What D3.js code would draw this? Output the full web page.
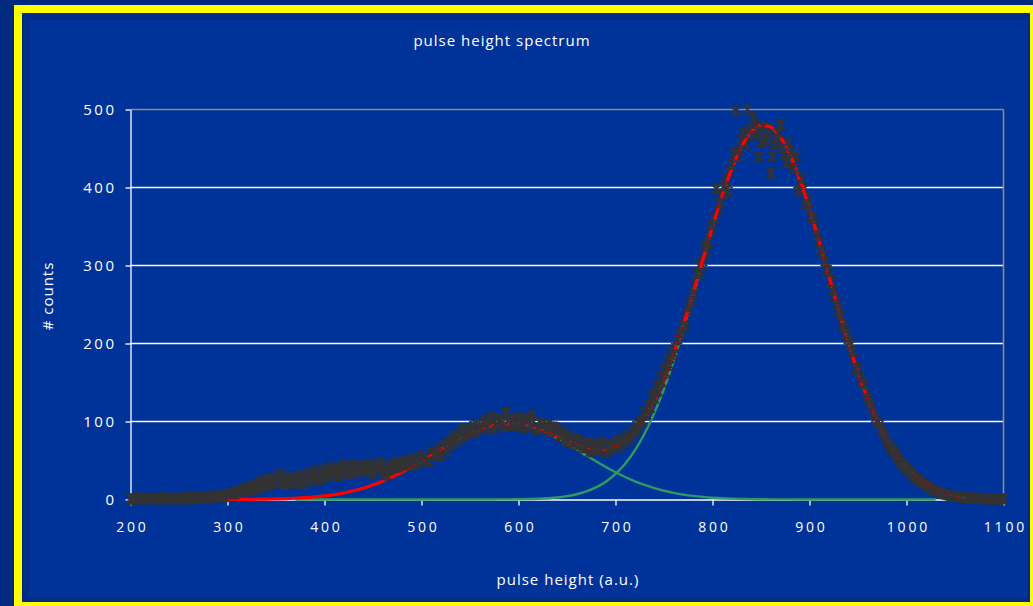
<!DOCTYPE html>
<html><head><meta charset="utf-8">
<script src="https://cdn.jsdelivr.net/npm/d3@7"></script>
<style>body{margin:0;background:#002a80;} svg{display:block}</style>
</head><body><svg id="c" width="1033" height="606"></svg>
<script>
// ---- data ----
const titleText = "pulse height spectrum";
const xTitle = "pulse height (a.u.)";
const yTitle = "# counts";
const xTicks = [200,300,400,500,600,700,800,900,1000,1100];
const xTickLabels = ["200","300","400","500","600","700","800","900","1000","1100"];
const yTicks = [0,100,200,300,400,500];
const yTickLabels = ["0","100","200","300","400","500"];

// measured spectrum, channels 200..1100 every 4
const scatterX = d3.range(200, 1101, 4);
const scatterY = [
 1,0,2,1,0,1,2,1,0,2,
 1,1,2,0,1,2,1,3,2,1,
 3,2,4,5,3,6,8,7,10,12,
 11,15,17,14,19,22,18,25,30,22,
 26,24,21,27,23,29,26,33,30,28,
 34,31,37,40,33,36,42,35,39,41,
 44,38,36,43,40,34,31,39,45,41,
 44,47,43,49,46,50,54,48,57,60,
 55,66,72,70,78,84,80,88,91,86,
 95,99,92,106,96,100,93,112,97,101,
 94,98,103,95,100,92,97,90,94,88,
 91,84,78,82,74,77,70,68,73,64,
 69,66,71,63,68,72,67,74,78,80,
 86,92,99,108,117,129,138,150,162,172,
 186,205,215,222,247,262,290,290,325,330,
 352,398,380,402,395,430,498,448,470,500,
 466,482,440,478,460,418,455,470,450,432,
 445,425,395,412,378,372,360,338,320,305,
 292,268,250,236,220,205,190,168,158,148,
 130,118,104,96,85,74,66,60,52,45,
 40,34,29,25,21,18,15,12,10,8,
 7,5,5,4,3,3,2,2,1,2,
 1,1,0,1,0,1
];
// measured spectrum, channels 202..1098 every 4
const scatterX2 = d3.range(202, 1099, 4);
const scatterY2 = [
 0,2,1,0,2,1,0,1,3,1,
 0,2,1,1,3,0,2,1,4,2,
 2,5,3,4,7,4,9,11,8,14,
 16,12,20,23,17,26,20,28,33,19,
 30,20,26,31,19,33,24,36,25,38,
 29,41,35,30,44,38,32,45,37,34,
 40,46,33,41,47,37,43,35,48,38,
 50,42,52,45,56,51,49,61,55,64,
 69,62,76,82,75,90,83,86,95,90,
 91,102,97,90,104,98,110,94,103,96,
 105,92,97,108,89,99,93,96,86,93,
 80,87,74,79,70,75,66,72,61,70,
 63,74,60,70,65,76,70,82,75,88,
 95,102,112,122,134,145,158,168,180,190,
 195,210,225,240,255,275,300,305,318,345,
 360,370,390,410,420,445,440,462,455,475,
 490,470,458,462,475,440,462,480,442,458,
 430,440,405,398,385,362,350,330,315,295,
 280,260,243,225,212,198,180,165,150,138,
 124,110,100,90,80,70,63,56,48,42,
 37,31,27,23,20,16,13,11,9,7,
 6,5,4,3,3,2,2,1,1,1,
 0,1,0,1,0
];

// total fit, channels 300..1060 every 10
const fitX = d3.range(300, 1061, 10);
const fitY = [
 0.1,0.1,0.2,0.3,0.5,0.8,1.1,1.6,2.3,3.3,
 4.6,6.3,8.5,11.2,14.5,18.6,23.3,28.8,35.0,41.7,
 49.0,56.5,64.2,71.6,78.5,84.8,89.9,93.8,96.2,97.0,
 96.5,94.4,90.8,86.4,81.1,75.9,70.9,66.8,64.5,64.4,
 67.7,74.7,86.3,103.2,125.3,153.2,186.2,224.0,264.9,307.7,
 350.0,389.8,424.7,452.5,471.3,479.8,477.5,464.4,441.5,410.2,
 372.5,330.6,286.8,243.0,201.4,163.0,129.0,99.7,75.4,55.7,
 40.2,28.4,19.6,13.2,8.7,5.6,3.5
];

// fit components, channels 370..1030 every 10
const compX = d3.range(370, 1031, 10);
const comp1Y = [
 1.6,2.3,3.3,4.6,6.3,8.5,11.2,14.5,18.6,23.3,
 28.8,35.0,41.7,49.0,56.5,64.2,71.6,78.5,84.8,89.9,
 93.8,96.2,97.0,96.2,93.8,89.9,84.8,78.5,71.6,64.2,
 56.5,49.0,41.7,35.0,28.8,23.3,18.6,14.5,11.2,8.5,
 6.3,4.6,3.3,2.3,1.6,1.1,0.8,0.5,0.3,0.2,
 0.1,0.1,0,0,0,0,0,0,0,0,
 0,0,0,0,0,0,0
];
const comp2Y = [
 0,0,0,0,0,0,0,0,0,0,
 0,0,0,0,0,0,0,0,0,0,
 0,0.1,0.2,0.3,0.6,0.9,1.6,2.6,4.3,6.7,
 10.3,15.5,22.7,32.7,45.9,63.0,84.6,110.8,142.0,177.7,
 217.7,260.3,304.4,347.7,388.2,423.6,451.7,470.8,479.5,477.3,
 464.3,441.5,410.2,372.5,330.6,286.8,243.0,201.4,163.0,129.0,
 99.7,75.4,55.7,40.2,28.4,19.6,13.2
];

// ---- drawing ----
const svg = d3.select("#c");
const FONT = "'Open Sans', 'DejaVu Sans', sans-serif";

svg.append("rect").attr("x",0).attr("y",0).attr("width",1033).attr("height",606).attr("fill","#002a80");
svg.append("rect").attr("x",14).attr("y",5).attr("width",1040).attr("height",620).attr("fill","#ffff00");
svg.append("rect").attr("x",22).attr("y",13).attr("width",1008).attr("height",589).attr("fill","#002b86");
svg.append("rect").attr("x",29).attr("y",20).attr("width",998).attr("height",578).attr("fill","#003399");

const x = d3.scaleLinear().domain([200,1100]).range([130.5,1003.5]);
const y = d3.scaleLinear().domain([0,500]).range([499.5,109.5]);

// gridlines
const grid = svg.append("g");
grid.selectAll("line.g").data(yTicks.filter(v => v>0 && v<500)).join("line")
  .attr("x1", x(200)).attr("x2", x(1100))
  .attr("y1", d=>y(d)).attr("y2", d=>y(d))
  .attr("stroke","#ffffff").attr("stroke-width",1.3);
grid.append("line").attr("x1",x(200)).attr("x2",x(1100)).attr("y1",y(500)).attr("y2",y(500))
  .attr("stroke","#8a8a8a").attr("stroke-width",1.6);
grid.append("line").attr("x1",x(1100)).attr("x2",x(1100)).attr("y1",y(500)).attr("y2",y(0))
  .attr("stroke","#8a8a8a").attr("stroke-width",1.6);

// y axis
const yAxis = svg.append("g").attr("transform",`translate(${x(200)},0)`)
  .call(d3.axisLeft(y).tickValues(yTicks).tickSize(5).tickSizeOuter(0).tickPadding(9)
    .tickFormat((d,i)=>yTickLabels[i]));
yAxis.selectAll("path,line").attr("stroke","#ffffff").attr("stroke-width",1.3);
yAxis.selectAll("text").attr("fill","#ffffff").style("font-family",FONT).style("font-size","15px")
  .style("letter-spacing","2.5px");

// x axis
const xAxis = svg.append("g").attr("transform",`translate(0,${y(0)})`)
  .call(d3.axisBottom(x).tickValues(xTicks).tickSize(6).tickSizeOuter(0).tickPadding(17)
    .tickFormat((d,i)=>xTickLabels[i]));
xAxis.selectAll("path,line").attr("stroke","#ffffff").attr("stroke-width",1.3);
xAxis.selectAll("text").attr("fill","#ffffff").style("font-family",FONT).style("font-size","14px")
  .style("letter-spacing","2.8px").attr("dx","1.4px");

// titles
svg.append("text").attr("x",502).attr("y",46).attr("text-anchor","middle")
  .attr("fill","#ffffff").style("font-family",FONT).style("font-size","15px").style("letter-spacing","1px")
  .text(titleText);
svg.append("text").attr("x",568).attr("y",585).attr("text-anchor","middle")
  .attr("fill","#ffffff").style("font-family",FONT).style("font-size","15px").style("letter-spacing","1px")
  .text(xTitle);
svg.append("text").attr("transform","translate(53,296) rotate(-90)").attr("text-anchor","middle")
  .attr("fill","#ffffff").style("font-family",FONT).style("font-size","15px").style("letter-spacing","1px")
  .text(yTitle);

// components
const lineComp = (arr) => d3.line().x((d,i)=>x(compX[i])).y((d,i)=>y(arr[i])).curve(d3.curveMonotoneX)(arr);
svg.append("path").attr("d", lineComp(comp1Y)).attr("fill","none").attr("stroke","#2f9a63").attr("stroke-width",2.4);
svg.append("path").attr("d", lineComp(comp2Y)).attr("fill","none").attr("stroke","#2f9a63").attr("stroke-width",2.4);

// star markers
const s = 4.5;
const star = `M${-s},${-s}L${s},${s}M${-s},${s}L${s},${-s}M${-s*0.6},${-s}L${s*0.6},${-s}M${-s*0.6},${s}L${s*0.6},${s}M0,${-s}L0,${s}`;
function drawStars(xs, ys) {
  svg.append("g").selectAll("path").data(ys).join("path")
    .attr("transform",(d,i)=>`translate(${x(xs[i])},${y(d)})`)
    .attr("d", star).attr("fill","none").attr("stroke","#333333").attr("stroke-width",1.7);
}
drawStars(scatterX2, scatterY2);

// total fit (interleaved with the points)
const fitLine = d3.line().x((d,i)=>x(fitX[i])).y((d,i)=>y(fitY[i])).curve(d3.curveMonotoneX);
svg.append("path").attr("d", fitLine(fitY)).attr("fill","none").attr("stroke","#ff0000")
  .attr("stroke-width",3.2).attr("stroke-linecap","round");

drawStars(scatterX, scatterY);
</script>
</body></html>
